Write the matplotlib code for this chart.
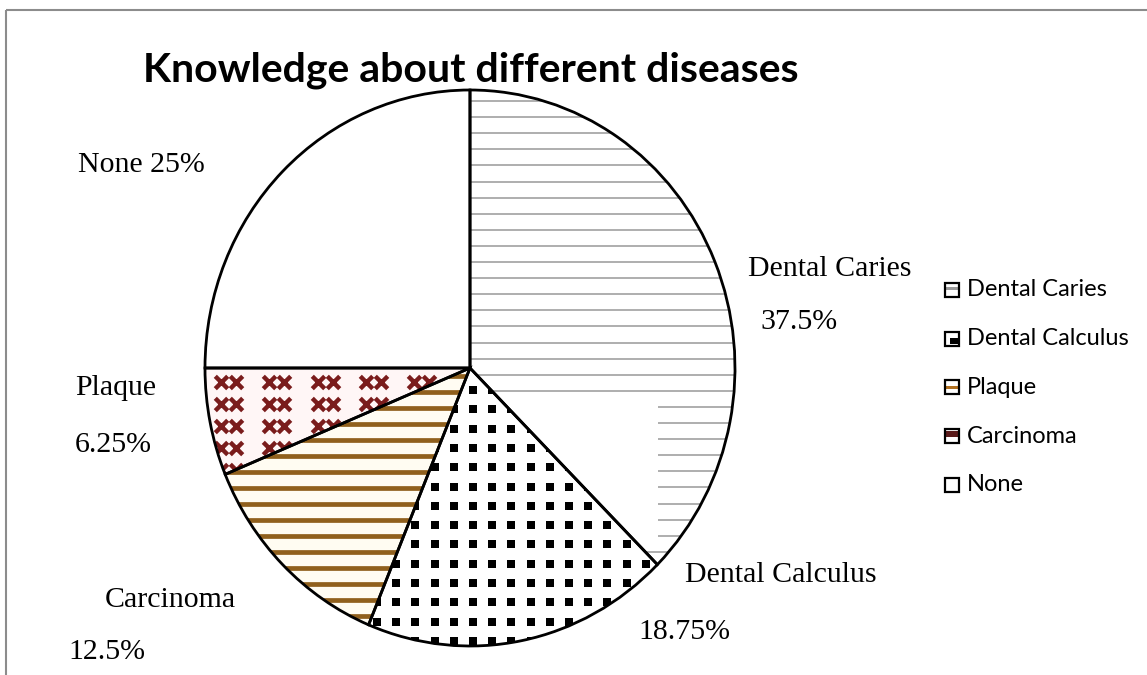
import numpy as np
import matplotlib
matplotlib.use("Agg")
import matplotlib.pyplot as plt
from matplotlib.patches import Rectangle

TITLE = "Knowledge about different diseases"

# slice order as drawn, clockwise from 12 o'clock
names = ["Dental Caries", "Dental Calculus", "Plaque", "Carcinoma", "None"]
values = [37.5, 18.75, 12.5, 6.25, 25]

# text written next to each slice (as placed on the chart)
slice_text = ["Dental Caries", "Dental Calculus", "Carcinoma", "Plaque", "None"]

W, H = 1147, 675
CX, CY, RX, RY = 470, 368, 265, 278   # pie box in pixels (slightly tall)


def fx(x):
    return (np.asarray(x) - CX) / RX


def fy(y):
    return (CY - np.asarray(y)) / RY


fig = plt.figure(figsize=(W / 100, H / 100), dpi=100)
pax = fig.add_axes([(CX - RX) / W, (H - CY - RY) / H, 2 * RX / W, 2 * RY / H])
ax = fig.add_axes([0, 0, 1, 1], zorder=2)
ax.patch.set_alpha(0)

# fills first, outlines on top after the textures
fills, _ = pax.pie(values, startangle=90, counterclock=False, radius=1,
                   colors=["white", "white", "#fffcf2", "#fff6f6", "white"],
                   wedgeprops=dict(linewidth=0, zorder=1))
pax.pie(values, startangle=90, counterclock=False, radius=1,
        wedgeprops=dict(facecolor="none", edgecolor="black", linewidth=2, zorder=5))
pax.set_aspect("auto")
pax.set_xlim(-1, 1)
pax.set_ylim(-1, 1)
pax.set_axis_off()

# Dental Caries: thin grey horizontal lines
ys = np.arange(CY - RY - 5, CY + RY, 16.1)
lines = pax.hlines(fy(ys), fx(CX - 5), fx(CX + RX + 5), color="#a8a8a8", lw=1.3, zorder=2)
lines.set_clip_path(fills[0])
gap = Rectangle((fx(CX), fy(548)), fx(658) - fx(CX), fy(398) - fy(548),
                facecolor="white", edgecolor="none", zorder=2.5)
pax.add_patch(gap)
gap.set_clip_path(fills[0])

# Dental Calculus: square black dots
gx, gy = np.meshgrid(np.arange(473 - 19.2 * 6, CX + RX, 19.2),
                     np.arange(390, CY + RY + 5, 19.3))
dots = pax.scatter(fx(gx.ravel()), fy(gy.ravel()), marker="s", s=34, c="black",
                   linewidths=0, zorder=2)
dots.set_clip_path(fills[1])

# Plaque: thick brown stripes
sy = np.arange(CY + 8, CY + RY + 5, 16)
stripes = pax.hlines(fy(sy), fx(CX - RX - 5), fx(CX + 5), color="#90601d", lw=3.4,
                     zorder=2)
stripes.set_clip_path(fills[2])

# Carcinoma: rows of maroon double crosses
kx, ky = np.meshgrid(np.arange(228.5, CX + 10, 48.3), np.arange(CY + 14, CY + 110, 22))
for off in (-7.5, 7.5):
    xx = pax.scatter(fx(kx.ravel() + off), fy(ky.ravel()), marker="x", s=80,
                     c="#7a1c1c", linewidths=3.2, zorder=2)
    xx.set_clip_path(fills[3])

ax.set_xlim(0, W)
ax.set_ylim(H, 0)
ax.set_axis_off()

# slice labels
serif = "Liberation Serif"
label_pos = [((748, 276), (760, 329)),
             ((685, 582), (638, 639)),
             ((105, 607), (68, 659)),
             ((75, 395), (75, 452))]
for (n, v, ((x1, y1), (x2, y2))) in zip(slice_text[:4], values[:4], label_pos):
    ax.text(x1, y1, n, fontsize=21.5, family=serif, va="baseline")
    ax.text(x2, y2, f"{v:g}%", fontsize=21.5, family=serif, va="baseline")
ax.text(78, 172, f"{slice_text[4]} {values[4]:g}%", fontsize=21.5, family=serif,
        va="baseline")

ax.text(471, 70, TITLE, fontsize=29.5, fontweight="bold", family="Lato",
        ha="center", va="center")

# legend swatches
swatch_inner = [("#9a9a9a", 0.30, 0.22, 0.0, 1.0),
                ("black", 0.45, 0.45, 0.35, 0.95),
                ("#b07020", 0.40, 0.18, 0.0, 1.0),
                ("#5a1a1a", 0.10, 0.45, 0.0, 1.0),
                (None, 0, 0, 0, 0)]
for i, (n, (col, top, h, left, right)) in enumerate(zip(names, swatch_inner)):
    yc = 290 + 48.7 * i
    x0, s = 945, 14
    if col is not None:
        ax.add_patch(Rectangle((x0 + left * s, yc - s / 2 + top * s), (right - left) * s,
                               h * s, facecolor=col, edgecolor="none", zorder=6))
    ax.add_patch(Rectangle((x0, yc - s / 2), s, s, facecolor="none",
                           edgecolor="black", linewidth=1.6, zorder=7))
    ax.text(x0 + 22, yc, n, fontsize=17, family="Lato", va="center")

# chart border (top and left edges)
ax.plot([6, W], [10, 10], color="#8c8c8c", lw=1.5, solid_capstyle="butt")
ax.plot([6, 6], [10, H], color="#8c8c8c", lw=1.5, solid_capstyle="butt")

fig.savefig("out.png", dpi=100)
